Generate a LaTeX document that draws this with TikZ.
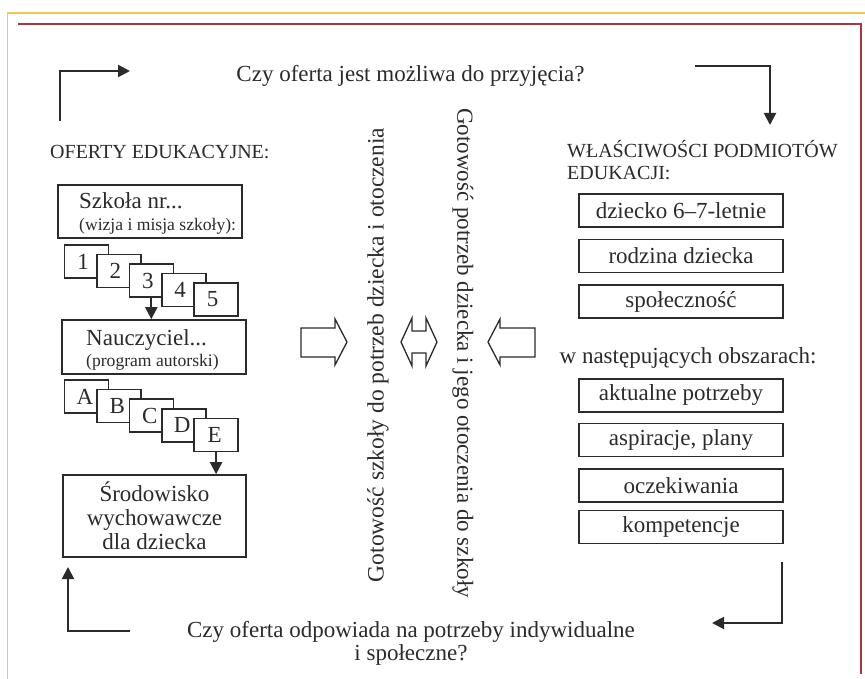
\documentclass[tikz,border=0pt]{standalone}
\usepackage{fontspec}
\setmainfont{Liberation Serif}
\usetikzlibrary{arrows.meta}
\definecolor{frameyellow}{HTML}{F4C84A}
\definecolor{framered}{HTML}{A8383C}
\definecolor{ink}{HTML}{2B2B2B}
\begin{document}
\begin{tikzpicture}[x=1pt,y=-1pt,
  txt/.style={font=\fontsize{23}{24}\selectfont, text=ink, inner sep=0pt},
  caps/.style={font=\fontsize{20}{21}\selectfont, text=ink, inner sep=0pt},
  sub/.style={font=\fontsize{17.6}{20}\selectfont, text=ink, inner sep=0pt},
  box/.style={draw=ink, line width=1.6pt, fill=white, inner sep=0pt,
    font=\fontsize{23}{24}\selectfont, text=ink, align=center},
  widebox/.style={box, minimum width=204pt, minimum height=33pt},
  card/.style={box, minimum width=44pt, minimum height=33pt},
  link/.style={draw=ink, line width=2pt, -{Triangle[length=12pt,width=12pt]}},
  hollow/.style={draw=ink, line width=1.3pt, fill=white, line join=miter},
]
\useasboundingbox (0,0) rectangle (865,679);
\fill[white] (0,0) rectangle (865,679);

% frames
\draw[frameyellow, line width=1.8pt] (7.5,679) -- (7.5,13) -- (865,13);
\draw[framered, line width=2pt] (18,24) -- (861,24) -- (861,674);

% top and bottom questions
\node[txt, anchor=base] (q1) at (410.5,82) {Czy oferta jest możliwa do przyjęcia?};
\node[txt, anchor=base] (q2a) at (411,637) {Czy oferta odpowiada na potrzeby indywidualne};
\node[txt, anchor=base] (q2b) at (411,660) {i społeczne?};

% corner arrows
\coordinate (tl1) at (60,121); \coordinate (tl2) at (60,71); \coordinate (tl3) at (130,71);
\draw[link] (tl1) -- (tl2) -- (tl3);
\coordinate (tr1) at (695,66); \coordinate (tr2) at (770,66); \coordinate (tr3) at (770,125);
\draw[link] (tr1) -- (tr2) -- (tr3);
\coordinate (br1) at (782,562); \coordinate (br2) at (782,623); \coordinate (br3) at (712,623);
\draw[link] (br1) -- (br2) -- (br3);
\coordinate (bl1) at (130,631); \coordinate (bl2) at (68,631); \coordinate (bl3) at (68,567);
\draw[link] (bl1) -- (bl2) -- (bl3);

% left column
\node[caps, anchor=base west] (oferty) at (50,159) {OFERTY EDUKACYJNE:};

\node[box, minimum width=184pt, minimum height=53pt] (szkola) at (150,211.5) {};
\node[txt, anchor=base west] (szkolaT) at (79,209) {Szkoła nr...};
\node[sub, anchor=base west] (szkolaS) at (79,231) {(wizja i misja szkoły):};

\foreach \t [count=\k from 0] in {1,2,3,4,5}
  \node[card] (n\t) at ({86.5+32.4*\k},{261.5+9.5*\k}) {\t\hspace{7pt}};

\node[box, minimum width=184pt, minimum height=54pt] (naucz) at (154,347) {};
\node[txt, anchor=base west] (nauczT) at (86,345) {Nauczyciel...};
\node[sub, anchor=base west] (nauczS) at (86,366) {(program autorski)};

\draw[link] (n3.south) -- (n3.south |- naucz.north);

\foreach \t [count=\k from 0] in {A,B,C,D,E}
  \node[card] (l\t) at ({86.5+32.4*\k},{396.5+9.6*\k}) {\t\hspace{3pt}};

\node[box, minimum width=183pt, minimum height=82pt] (srod) at (154.5,516)
  {Środowisko\\wychowawcze\\dla dziecka};

\draw[link] (lE.south) -- (lE.south |- srod.north);

% middle
\draw[hollow] (301,328) -- (335,328) -- (335,319) -- (347,342) -- (335,365)
  -- (335,357) -- (301,357) -- cycle;
\draw[hollow] (401,342) -- (412,318) -- (412,331) -- (426,331) -- (426,318)
  -- (437,342) -- (426,366) -- (426,353) -- (412,353) -- (412,366) -- cycle;
\draw[hollow] (488,342) -- (500,319) -- (500,328) -- (535,328) -- (535,357)
  -- (500,357) -- (500,365) -- cycle;

\node[txt, rotate=90, font=\fontsize{23.5}{24}\selectfont] (gs) at (378,355) {Gotowość szkoły do potrzeb dziecka i otoczenia};
\node[txt, rotate=-90] (gp) at (463,353) {Gotowość potrzeb dziecka i jego otoczenia do szkoły};

% right column
\node[caps, anchor=base west] (wl1) at (567,158) {WŁAŚCIWOŚCI PODMIOTÓW};
\node[caps, anchor=base west] (wl2) at (567,180) {EDUKACJI:};

\node[widebox] (r1) at (681,210.5) {dziecko 6–7-letnie};
\node[widebox] (r2) at (681,256) {rodzina dziecka};
\node[widebox] (r3) at (681,301.5) {społeczność};

\node[txt, anchor=base] (wnast) at (688,363) {w następujących obszarach:};

\node[widebox] (s1) at (681,395.5) {aktualne potrzeby};
\node[widebox] (s2) at (681,440) {aspiracje, plany};
\node[widebox] (s3) at (681,485.5) {oczekiwania};
\node[widebox] (s4) at (681,527) {kompetencje};
\end{tikzpicture}
\end{document}
